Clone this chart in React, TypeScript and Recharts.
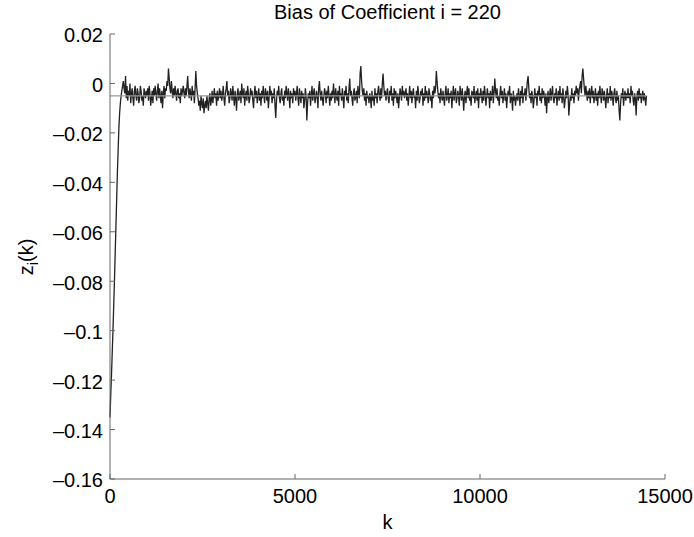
import React from 'react';
import { LineChart, Line, XAxis, YAxis, Label } from 'recharts';

// sampled every 20 iterations, values in units of 1e-3
const kStep = 20;
const zMilli = [
  // 0 - 980
  -135, -126, -118, -109, -100, -90, -80, -69, -58, -47, -36, -27, -18, -12, -8, -5, -3, -1, 1, -2,
  -4, 3, -6, -1, -7, -3, -5, 0, -8, -4, -2, -6, -9, -3, -1, -5, -7, -2, -4, -8,
  -6, -1, -3, -7, -5, -9, -2, -4, -6, -3,
  // 1000 - 1980
  -5, -2, -7, -1, -4, -9, -6, -3, -8, -2, -5, -1, -4, -7, -3, 0, -6, -2, -5, -8,
  -3, -10, -4, -1, -6, -2, -3, 1, -1, 6, 2, -2, -4, 1, -3, -6, -2, -5, -1, -4,
  -7, -3, -2, -6, -4, -8, -2, -5, -3, -1,
  // 2000 - 2980
  -4, -6, -2, -5, -1, 3, -3, -6, -2, -4, -7, -1, -5, -3, -8, -2, 5, -1, -4, -6,
  -9, -7, -11, -5, -8, -10, -6, -12, -9, -7, -10, -5, -8, -11, -6, -4, -9, -7, -3, -8,
  -5, -2, -6, -4, -9, -3, -7, -5, -2, -6,
  // 3000 - 3980
  -3, -7, -5, -1, -6, -9, -4, -2, 1, -5, -3, -8, -6, -2, -4, -7, -1, -5, -9, -3,
  -6, -11, -4, -2, -7, -5, -3, -8, 0, -4, -6, -2, -9, -5, -3, -7, -1, -4, -8, -6,
  -2, -5, -3, -7, -10, -4, -1, -6, -3, -8,
  // 4000 - 4980
  -5, -2, -7, -4, -9, -3, -6, -1, -5, -8, -2, -4, -7, -3, -10, -6, -1, -5, -3, -8,
  -4, -6, -2, -9, -14, -7, -3, -5, -1, -6, -8, -4, -2, -7, -5, -9, -3, -6, -1, -4,
  -7, -2, -5, -10, -3, -6, -4, -8, -2, -5,
  // 5000 - 5980
  -3, -7, -4, -1, -6, -9, -2, -5, -8, -3, -6, -4, -10, -7, -2, -5, -15, -8, -4, -6,
  -3, -9, -5, -1, -7, -4, -2, -8, -6, -3, -5, -10, -2, 1, -4, -7, -3, -6, -9, -5,
  -2, -4, -8, -3, -6, -1, -5, -9, -4, -7,
  // 6000 - 6980
  -3, -6, 0, -4, -8, -2, -5, -7, -3, -9, -1, -5, -4, -7, -2, -6, -10, -3, -5, -1,
  -7, -4, -8, -2, 2, -5, -3, -6, -9, -4, -2, -7, -5, -3, -8, -1, -4, -6, 4, 7,
  1, -3, -5, -2, -7, -4, -9, -3, -6, -5,
  // 7000 - 7980
  -8, -4, -6, -10, -3, -7, -5, -9, -2, -6, -4, -8, -3, -1, -5, -7, -2, -6, 0, 4,
  -1, -5, -3, -7, -4, -2, -6, -8, -3, -5, -1, -7, -4, -9, -2, -6, -3, -5, -8, -4,
  -10, -6, -2, -4, -7, -1, -5, -3, -6, -4,
  // 8000 - 8980
  -2, -7, -4, -9, -5, -1, -6, -3, -8, -4, -2, -6, -5, -10, -3, -7, -1, -4, -8, -6,
  -3, -5, -2, -9, -4, -7, -1, -6, -3, -5, -8, -2, -4, -7, -5, -10, -3, -6, -1, -4,
  -2, 5, 1, -3, -6, -4, -8, -2, -5, -7,
  // 9000 - 9980
  -3, -6, -9, -4, -1, -7, -5, -2, -8, -4, -6, -3, -10, -5, -1, -7, -4, -2, -8, -6,
  -3, -5, -9, -1, -4, -7, -2, -6, -11, -5, -3, -8, -4, -1, -6, -2, -7, -5, -9, -3,
  -4, -6, -1, -8, -5, -3, -7, -2, -10, -4,
  // 10000 - 10980
  -6, -2, -5, -8, -3, -7, -1, -4, -9, -5, -2, -6, -4, -10, -3, -7, -5, -1, -8, -4,
  2, -3, -6, -2, -7, -5, -9, -4, -1, -6, -3, -8, -5, -2, -7, -4, -10, -6, -3, -5,
  -1, -8, -4, -6, -11, -3, -7, -5, -9, -6,
  // 11000 - 11980
  -4, -7, -2, -5, -9, -3, -6, -1, -8, -4, -5, -2, -7, -3, 1, 3, -2, -6, -4, -8,
  -3, -5, -10, -7, -2, -6, -4, -9, -3, -5, -1, -7, -4, -8, -2, -6, -3, -5, -9, -4,
  -12, -6, -3, -8, -5, -2, -7, -4, -1, -6,
  // 12000 - 12980
  -8, -4, -6, -2, -9, -5, -3, -7, -1, -6, -4, -8, -2, -5, -10, -7, -3, -6, -1, -4,
  -13, -9, -5, -7, -2, -6, -4, -8, -3, -5, -1, -4, -2, -7, -3, -1, 1, -4, 3, 6,
  2, -2, -5, -1, -4, -7, -3, -6, -2, -8,
  // 13000 - 13980
  -4, -1, -6, -3, -8, -5, -2, -7, -4, -9, -3, -6, -1, -5, -8, -2, -4, -7, -3, -6,
  -10, -5, -2, -8, -4, -6, -1, -7, -3, -5, -9, -4, -2, -6, -8, -3, -7, -5, -11, -15,
  -8, -4, -6, -2, -9, -5, -3, -7, -4, -6,
  // 14000 - 14500
  -2, -6, -4, -8, -1, -5, -3, -7, -9, -4, -6, -13, -5, -3, -7, -2, -6, -4, -8, -5,
  -3, -7, -4, -6, -9, -5,
];

const steadyBias = -0.005;
const xTicks = [0, 5000, 10000, 15000];
const yTicks = [-0.16, -0.14, -0.12, -0.1, -0.08, -0.06, -0.04, -0.02, 0, 0.02];
const yTickLabels = ['\u20130.16', '\u20130.14', '\u20130.12', '\u20130.1', '\u20130.08', '\u20130.06', '\u20130.04', '\u20130.02', '0', '0.02'];

const data = zMilli.map((v, i) => ({ k: i * kStep, z: v / 1000 }));
const lastK = (zMilli.length - 1) * kStep;
const biasLine = [
  { k: 0, bias: steadyBias },
  { k: lastK, bias: steadyBias },
];

const font = 'Helvetica, Arial, "Liberation Sans", sans-serif';
const fontSize = 20;
const axisColor = '#666';

// matlab style: tick marks point into the plot
const YTick = (props: any) => {
  const { x, y, payload } = props;
  const idx = yTicks.findIndex((t) => Math.abs(t - payload.value) < 1e-9);
  return (
    <g>
      <line x1={x + 7} x2={x + 12} y1={y} y2={y} stroke={axisColor} />
      <text x={x} y={y} dy="0.42em" textAnchor="end" fontSize={fontSize} fontFamily={font} fill="#000">
        {yTickLabels[idx]}
      </text>
    </g>
  );
};

const XTick = (props: any) => {
  const { x, y, payload } = props;
  return (
    <g>
      <line x1={x} x2={x} y1={y - 10} y2={y - 15} stroke={axisColor} />
      <text x={x} y={y} dy="0.71em" textAnchor="middle" fontSize={fontSize} fontFamily={font} fill="#000">
        {payload.value}
      </text>
    </g>
  );
};

export default function App() {
  return (
    <div style={{ position: 'absolute', left: 0, top: 0, width: 694, height: 537, background: '#fff' }}>
      <LineChart width={694} height={537} data={data} margin={{ top: 34, right: 29, left: 0, bottom: 0 }}>
        <XAxis
          dataKey="k"
          type="number"
          domain={[0, 15000]}
          ticks={xTicks}
          height={58}
          stroke={axisColor}
          tickLine={false}
          tickSize={0}
          tickMargin={10}
          tick={<XTick />}
          interval={0}
        >
          <Label value="k" position="insideBottom" offset={8} style={{ fill: '#000', fontSize, fontFamily: font }} />
        </XAxis>
        <YAxis
          type="number"
          domain={[-0.16, 0.02]}
          ticks={yTicks}
          width={110}
          stroke={axisColor}
          tickLine={false}
          tickSize={0}
          tickMargin={7}
          tick={<YTick />}
          interval={0}
        />
        <Line type="linear" dataKey="z" stroke="#222" strokeWidth={1.3} dot={false} isAnimationActive={false} />
        <Line
          data={biasLine}
          type="linear"
          dataKey="bias"
          stroke="#999"
          strokeWidth={1.2}
          dot={false}
          isAnimationActive={false}
        />
      </LineChart>
      <svg width={694} height={537} style={{ position: 'absolute', left: 0, top: 0, pointerEvents: 'none' }}>
        <text x={387.5} y={19} textAnchor="middle" fontSize={fontSize} fontFamily={font} fill="#000">
          Bias of Coefficient i = 220
        </text>
        <text x={33} y={257} transform="rotate(-90 33 257)" textAnchor="middle" fontSize={fontSize} fontFamily={font} fill="#000">
          z<tspan dy={5} fontSize={15}>i</tspan><tspan dy={-5}>(k)</tspan>
        </text>
      </svg>
    </div>
  );
}
